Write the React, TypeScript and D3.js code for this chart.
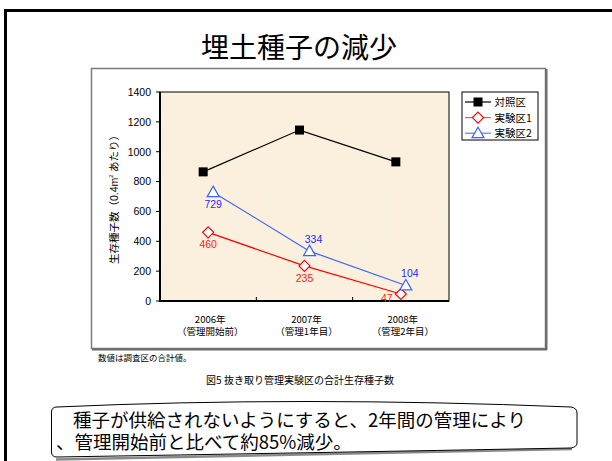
import React from "react";
import * as d3 from "d3";

// Survey years and their management stage labels
const years = ["2006年", "2007年", "2008年"];
const stages = ["（管理開始前）", "（管理1年目）", "（管理2年目）"];

// Total surviving seeds per plot (per 0.4 m²)
const controlValues = [865, 1145, 932];
const trial1Values = [460, 235, 47];
const trial2Values = [729, 334, 104];

const seriesNames = ["対照区", "実験区1", "実験区2"];
const yTicks = [0, 200, 400, 600, 800, 1000, 1200, 1400];

const W = 612;
const H = 461;
const JP = "'Noto Sans CJK JP', sans-serif";
const NUM = "'Liberation Sans', 'Noto Sans CJK JP', sans-serif";

const plot = { left: 160, right: 449, top: 92, bottom: 301 };

type Marker = "square" | "diamond" | "triangle";

function MarkerShape({ kind, x, y, color }: { kind: Marker; x: number; y: number; color: string }) {
  if (kind === "square") {
    return <rect x={x - 4.5} y={y - 4.5} width={9} height={9} fill="#000" />;
  }
  if (kind === "diamond") {
    return (
      <path
        d={`M${x},${y - 5.5}L${x + 5.5},${y}L${x},${y + 5.5}L${x - 5.5},${y}Z`}
        fill="#fff"
        stroke={color}
        strokeWidth={1.2}
      />
    );
  }
  return (
    <path
      d={`M${x},${y - 6}L${x + 6},${y + 4.5}L${x - 6},${y + 4.5}Z`}
      fill="#fff"
      stroke={color}
      strokeWidth={1.2}
    />
  );
}

export default function App() {
  const x = d3.scaleBand<string>().domain(years).range([plot.left, plot.right]).padding(0);
  const y = d3.scaleLinear().domain([0, 1400]).range([plot.bottom, plot.top]);
  const cx = (i: number) => (x(years[i]) as number) + x.bandwidth() / 2;

  const series = [
    { name: seriesNames[0], values: controlValues, color: "#000", label: "#000", marker: "square" as Marker, dx: -5, labels: false, legendLine: "#000" },
    { name: seriesNames[1], values: trial1Values, color: "#ff0000", label: "#ff2020", marker: "diamond" as Marker, dx: 0, labels: true, legendLine: "#ff5050" },
    { name: seriesNames[2], values: trial2Values, color: "#3d63ff", label: "#2a2aff", marker: "triangle" as Marker, dx: 5, labels: true, legendLine: "#5a7cff" },
  ];

  // data label placement per series/point: [dx, dy]
  const labelOffsets: Record<string, [number, number][]> = {
    [seriesNames[1]]: [[0, 12], [0, 12], [-14, 4]],
    [seriesNames[2]]: [[0, 12], [4, -12], [4, -12]],
  };

  const line = d3
    .line<number>()
    .x((_, i) => cx(i))
    .y((v) => y(v));

  return (
    <svg width={W} height={H} style={{ position: "absolute", left: 0, top: 0, background: "#fff" }}>
      <defs>
        <filter id="paper" x="0" y="0" width="100%" height="100%">
          <feTurbulence type="fractalNoise" baseFrequency="0.04" numOctaves="3" seed="4" result="n" />
          <feColorMatrix
            in="n"
            type="matrix"
            values="0 0 0 0 0.94  0 0 0 0 0.87  0 0 0 0 0.74  0 0 0 1.0 -0.42"
            result="c"
          />
          <feComposite in="c" in2="SourceGraphic" operator="in" />
        </filter>
      </defs>

      {/* outer frame */}
      <path d={`M5.5,${H} V10.5 H${W}`} fill="none" stroke="#000" strokeWidth={3} />

      <text x={299} y={58} textAnchor="middle" fontFamily={JP} fontSize={28} fill="#000">
        埋土種子の減少
      </text>

      {/* chart frame */}
      <rect x={91.5} y={68.5} width={454} height={280} fill="#fff" stroke="#7a7a7a" strokeWidth={1.5} />
      <line x1={546.5} y1={69} x2={546.5} y2={350} stroke="#6a6a6a" strokeWidth={2} />
      <line x1={92} y1={349.5} x2={547} y2={349.5} stroke="#6a6a6a" strokeWidth={2} />

      {/* plot area */}
      <rect x={plot.left} y={plot.top} width={plot.right - plot.left} height={plot.bottom - plot.top} fill="#faf0dd" />
      <rect
        x={plot.left}
        y={plot.top}
        width={plot.right - plot.left}
        height={plot.bottom - plot.top}
        fill="#fff"
        filter="url(#paper)"
      />
      <rect
        x={plot.left}
        y={plot.top}
        width={plot.right - plot.left}
        height={plot.bottom - plot.top}
        fill="none"
        stroke="#000"
        strokeWidth={1}
      />
      <line x1={plot.left} y1={plot.top} x2={plot.left} y2={plot.bottom} stroke="#000" strokeWidth={2} />
      <line x1={plot.left - 1} y1={plot.bottom} x2={plot.right} y2={plot.bottom} stroke="#000" strokeWidth={2} />

      {/* y axis */}
      {yTicks.map((t) => (
        <g key={t}>
          <line x1={plot.left - 4} x2={plot.left} y1={y(t)} y2={y(t)} stroke="#000" strokeWidth={1} />
          <text x={151} y={y(t) + 3.8} textAnchor="end" fontFamily={NUM} fontSize={10.5} fill="#000">
            {t}
          </text>
        </g>
      ))}
      <text
        transform={`translate(118,197) rotate(-90)`}
        textAnchor="middle"
        fontFamily={JP}
        fontSize={10.5}
        fill="#000"
      >
        生存種子数（
        <tspan fontFamily={NUM}>0.4m</tspan>
        <tspan fontFamily={NUM} fontSize={6} dy={-5}>2</tspan>
        <tspan dy={5}> あたり）</tspan>
      </text>

      {/* x axis */}
      {years.slice(1).map((yr) => (
        <line key={yr} x1={x(yr)} x2={x(yr)} y1={plot.bottom - 4} y2={plot.bottom} stroke="#000" strokeWidth={1} />
      ))}
      {years.map((yr, i) => (
        <g key={yr}>
          <text x={cx(i) + 2} y={322.5} textAnchor="middle" fontFamily={JP} fontSize={9.5} fill="#000">
            {yr}
          </text>
          <text x={cx(i) + 2} y={335} textAnchor="middle" fontFamily={JP} fontSize={9.5} fill="#000">
            {stages[i]}
          </text>
        </g>
      ))}

      {/* series */}
      {series.map((s) => (
        <g key={s.name} transform={`translate(${s.dx},0)`}>
          <path d={line(s.values) || ""} fill="none" stroke={s.color} strokeWidth={1.2} />
          {s.values.map((v, i) => (
            <MarkerShape key={i} kind={s.marker} x={cx(i)} y={y(v)} color={s.color} />
          ))}
          {s.labels &&
            s.values.map((v, i) => {
              const [ox, oy] = labelOffsets[s.name][i];
              return (
                <text
                  key={"l" + i}
                  x={cx(i) + ox}
                  y={y(v) + oy + 4}
                  textAnchor="middle"
                  fontFamily={NUM}
                  fontSize={10.5}
                  fill={s.label}
                >
                  {v}
                </text>
              );
            })}
        </g>
      ))}

      {/* legend */}
      <rect x={462} y={92} width={76} height={48} fill="#fff" stroke="#000" strokeWidth={1} />
      {series.map((s, i) => {
        const ly = 102 + i * 15.6;
        return (
          <g key={s.name}>
            <line x1={465} x2={491} y1={ly} y2={ly} stroke={s.legendLine} strokeWidth={1.2} />
            <MarkerShape kind={s.marker} x={478} y={ly} color={s.color} />
            <text x={494.5} y={ly + 4} fontFamily={JP} fontSize={10.5} fill="#000">
              {s.name}
            </text>
          </g>
        );
      })}

      <text x={98} y={361} fontFamily={JP} fontSize={8.5} fill="#000">
        数値は調査区の合計値。
      </text>
      <text x={300} y={384} textAnchor="middle" fontFamily={JP} fontSize={10} fill="#000">
        図5 抜き取り管理実験区の合計生存種子数
      </text>

      {/* summary callout */}
      <path
        d="M56,459.5 Q300,455 572,449"
        fill="none"
        stroke="#8a8a8a"
        strokeWidth={2.5}
      />
      <path
        d="M57,407 Q300,396 571,407 Q577,408 577,413 L577,443 Q577,447 571,448 Q300,453 57,457 Q51.5,457 51.5,452 L51.5,412 Q51.5,407 57,407 Z"
        fill="#fff"
        stroke="#000"
        strokeWidth={1}
      />
      <text x={73} y={427} fontFamily={JP} fontSize={18.5} fill="#000">
        種子が供給されないようにすると、2年間の管理により
      </text>
      <text x={56} y={449} fontFamily={JP} fontSize={18.5} fill="#000">
        、管理開始前と比べて約85%減少。
      </text>
    </svg>
  );
}
